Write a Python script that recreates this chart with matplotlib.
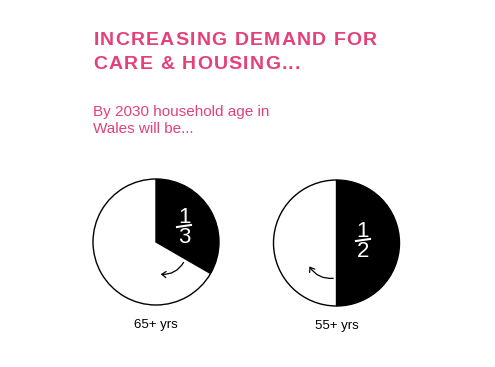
import matplotlib as mpl
import matplotlib.pyplot as plt
from matplotlib.patches import FancyArrowPatch
from matplotlib.font_manager import FontProperties, findfont, get_font

# Data
fractions = [1 / 3, 1 / 2]
numerators = ["1", "1"]
denominators = ["3", "2"]
age_labels = ["65+ yrs", "55+ yrs"]

title_lines = ["INCREASING DEMAND FOR", "CARE & HOUSING..."]
subtitle = "By 2030 household age in\nWales will be..."

pink = "#e4407b"
W, H = 495, 367

fig = plt.figure(figsize=(W / 100, H / 100), dpi=100)
ax = fig.add_axes([0, 0, 1, 1])

centers = [(156, H - 242), (336.5, H - 243)]
radius = 63
# where the fraction label sits, offset from the pie centre (pixels)
label_offsets = [(28, 16), (26.5, 3)]

for (cx, cy), (ox, oy), frac, num, den, lab in zip(
        centers, label_offsets, fractions, numerators, denominators, age_labels):
    ax.pie([frac, 1 - frac], colors=["black", "white"], startangle=90,
           counterclock=False, center=(cx, cy), radius=radius,
           wedgeprops=dict(edgecolor="black", linewidth=1.0))
    fx, fy = cx + ox, cy + oy
    ax.text(fx, fy + 3, num, color="white", fontsize=16, ha="center",
            va="baseline", family="Liberation Sans")
    ax.plot([fx - 7, fx + 7], [fy - 1, fy + 1], color="white", lw=1.5)
    ax.text(fx, fy - 17, den, color="white", fontsize=16, ha="center",
            va="baseline", family="Liberation Sans")
    ax.text(cx, cy - radius - 20, lab, color="black", fontsize=9.5,
            ha="center", va="center", family="Liberation Sans")

# curved arrows showing direction of the wedge
arrows = [((185, H - 260), (158, H - 274), -0.35),
          ((336, H - 278), (308, H - 264), -0.35)]
for start, end, rad in arrows:
    ax.add_patch(FancyArrowPatch(start, end, connectionstyle=f"arc3,rad={rad}",
                                 arrowstyle="->,head_length=3,head_width=2.2",
                                 color="black", lw=0.9))

# title with a little letter spacing, placed char by char from font advances
title_size = 14
tracking = 1.2
fp = FontProperties(family="Liberation Sans", weight="bold", size=title_size)
font = get_font(findfont(fp))
font.set_size(title_size, 100)
unit = 64 * mpl.rcParams["text.hinting_factor"]
for line, base in zip(title_lines, [45.3, 69]):
    x = 93.4
    for ch in line:
        g = font.load_char(ord(ch))
        if ch != " ":
            ax.text(x + g.horiBearingX / unit, H - base, ch, color=pink,
                    fontproperties=fp, ha="left", va="baseline")
        x += g.horiAdvance / unit + tracking

ax.text(93, H - 105, subtitle, color=pink, fontsize=11, ha="left",
        va="top", family="Liberation Sans", linespacing=1.27)

ax.set_xlim(0, W)
ax.set_ylim(0, H)
ax.set_aspect("equal")
ax.axis("off")

fig.savefig("out.png", dpi=100)
